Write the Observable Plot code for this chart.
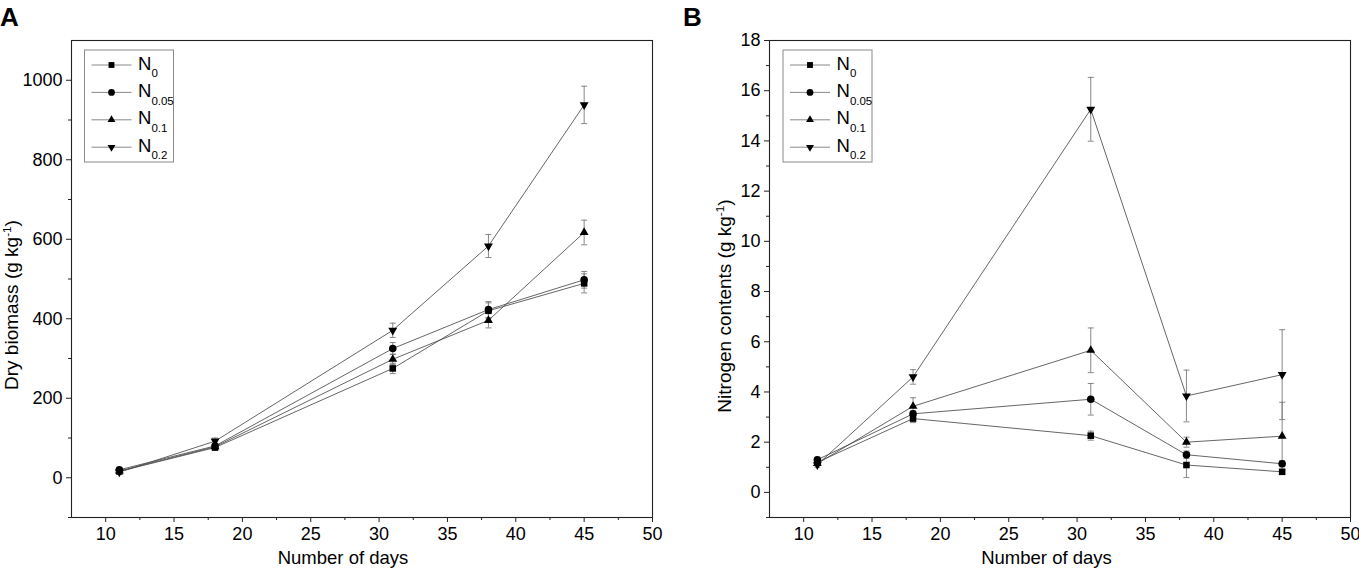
<!DOCTYPE html>
<html>
<head>
<meta charset="utf-8">
<script src="https://cdn.jsdelivr.net/npm/d3@7"></script>
<script src="https://cdn.jsdelivr.net/npm/@observablehq/plot@0.6"></script>
<style>
  html, body { margin: 0; padding: 0; background: #fff; }
  #wrap { position: relative; width: 1359px; height: 568px; overflow: hidden; background: #fff; }
  #wrap > svg { position: absolute; top: 0; }
</style>
</head>
<body>
<div id="wrap"></div>
<script>
// ---------------- data ----------------
const days = [11, 18, 31, 38, 45];
const seriesNames = ["N0", "N0.05", "N0.1", "N0.2"];
const seriesSubscripts = ["0", "0.05", "0.1", "0.2"];

// Panel A: dry biomass (g kg-1)
const biomassN0   = [16, 76, 275, 420, 489];
const biomassN005 = [20, 80, 325, 423, 498];
const biomassN01  = [17, 78, 298, 396, 617];
const biomassN02  = [14, 92, 371, 583, 938];
const biomassErrN0   = [5, 7, 13, 20, 24];
const biomassErrN005 = [5, 7, 15, 20, 21];
const biomassErrN01  = [5, 7, 13, 19, 31];
const biomassErrN02  = [5, 8, 18, 29, 47];

// Panel B: nitrogen contents (g kg-1)
const nitrogenN0   = [1.20, 2.94, 2.26, 1.09, 0.82];
const nitrogenN005 = [1.30, 3.13, 3.71, 1.50, 1.14];
const nitrogenN01  = [1.15, 3.43, 5.66, 2.00, 2.24];
const nitrogenN02  = [1.10, 4.60, 15.26, 3.84, 4.69];
const nitrogenErrN0   = [0.08, 0.16, 0.18, 0.50, 0.10];
const nitrogenErrN005 = [0.10, 0.12, 0.63, 0.15, 0.12];
const nitrogenErrN01  = [0.08, 0.34, 0.89, 0.20, 1.35];
const nitrogenErrN02  = [0.10, 0.29, 1.27, 1.03, 1.79];

// tick labels
const dayTicks = [10, 15, 20, 25, 30, 35, 40, 45, 50];
const biomassTicks = [0, 200, 400, 600, 800, 1000];
const nitrogenTicks = [0, 2, 4, 6, 8, 10, 12, 14, 16, 18];

// ---------------- helpers ----------------
const FONT = "'Liberation Sans', Arial, Helvetica, sans-serif";
const sqrt3 = Math.sqrt(3);
const triangleDown = {
  draw(context, size) {
    const y = -Math.sqrt(size / (sqrt3 * 3));
    context.moveTo(0, -y * 2);
    context.lineTo(-sqrt3 * y, y);
    context.lineTo(sqrt3 * y, y);
    context.closePath();
  }
};
const capSymbol = {
  draw(context) { context.moveTo(-3, 0); context.lineTo(3, 0); }
};
const symbols = [d3.symbolSquare, d3.symbolCircle, d3.symbolTriangle, triangleDown];
const symbolR = [3.7, 3.8, 3.3, 3.3];

function tidy(valueArrays, errArrays) {
  const rows = [];
  valueArrays.forEach((vals, s) => {
    vals.forEach((v, i) => rows.push({series: seriesNames[s], si: s, day: days[i], value: v,
      lo: v - errArrays[s][i], hi: v + errArrays[s][i]}));
  });
  return rows;
}

function panel({rows, yDomain, yTicks, yMinor, marginLeft, marginRight, width}) {
  const xMinor = d3.range(12.5, 50, 5);
  const marks = [
    Plot.ruleX(rows, {x: "day", y1: "lo", y2: "hi", stroke: "#7a7a7a", strokeWidth: 0.9}),
    Plot.dot(rows, {x: "day", y: "lo", symbol: capSymbol, stroke: "#7a7a7a", fill: "none", strokeWidth: 0.9}),
    Plot.dot(rows, {x: "day", y: "hi", symbol: capSymbol, stroke: "#7a7a7a", fill: "none", strokeWidth: 0.9}),
    Plot.line(rows, {x: "day", y: "value", z: "series", stroke: "#4a4a4a", strokeWidth: 0.85}),
    ...seriesNames.map((name, s) => Plot.dot(rows.filter(d => d.si === s),
      {x: "day", y: "value", symbol: symbols[s], r: symbolR[s], fill: "#000", stroke: "none"})),
    Plot.axisX({ticks: dayTicks, tickSize: 5, tickPadding: 5, tickFormat: d3.format("d"), label: null, stroke: "#222"}),
    Plot.axisX({ticks: xMinor, tickSize: 3, tickFormat: () => "", label: null, stroke: "#222"}),
    Plot.axisY({ticks: yTicks, tickSize: 5, tickPadding: 4, tickFormat: d3.format("d"), label: null, stroke: "#222"}),
    Plot.axisY({ticks: yMinor, tickSize: 3, tickFormat: () => "", label: null, stroke: "#222"}),
    Plot.frame({stroke: "#222", strokeWidth: 1.1})
  ];
  return Plot.plot({
    width, height: 568,
    marginLeft, marginRight, marginTop: 40, marginBottom: 51,
    x: {domain: [7.5, 50]},
    y: {domain: yDomain},
    style: {fontFamily: FONT, fontSize: "18px", color: "#000", background: "transparent", overflow: "visible"},
    marks
  });
}

function addRichText(sel, x, y, parts, opts = {}) {
  const t = sel.append("text")
    .attr("x", x).attr("y", y)
    .attr("font-family", FONT)
    .attr("font-size", opts.size || 18)
    .attr("fill", "#000")
    .attr("text-anchor", opts.anchor || "start");
  if (opts.rotate) t.attr("transform", `rotate(${opts.rotate},${x},${y})`);
  if (opts.weight) t.attr("font-weight", opts.weight);
  let shift = 0;
  parts.forEach(([txt, kind]) => {
    const ts = t.append("tspan").text(txt);
    let target = 0;
    if (kind === "sup") { ts.attr("font-size", (opts.size || 18) * 0.62); target = -7; }
    else if (kind === "sub") { ts.attr("font-size", opts.subSize || 11); target = opts.subShift || 7.7; }
    ts.attr("dy", target - shift);
    shift = target;
  });
  return t;
}

function addLegend(svg, left, top) {
  const g = d3.select(svg).append("g");
  g.append("rect").attr("x", left).attr("y", top).attr("width", 89).attr("height", 112)
    .attr("fill", "#fff").attr("stroke", "#8a8a8a").attr("stroke-width", 1);
  seriesNames.forEach((name, i) => {
    const cy = top + 15 + i * 27.4;
    g.append("line").attr("x1", left + 7).attr("x2", left + 47).attr("y1", cy).attr("y2", cy)
      .attr("stroke", "#888").attr("stroke-width", 1);
    const area = Math.PI * symbolR[i] * symbolR[i] * 0.8;
    g.append("path").attr("d", d3.symbol().type(symbols[i]).size(area)())
      .attr("transform", `translate(${left + 27},${cy})`).attr("fill", "#000");
    addRichText(g, left + 53.5, cy + 4.5, [["N"], [seriesSubscripts[i], "sub"]], {size: 18.5, subSize: 11.5, subShift: 7.7});
  });
}

const wrap = document.getElementById("wrap");

// Panel A
const plotA = panel({
  rows: tidy([biomassN0, biomassN005, biomassN01, biomassN02],
             [biomassErrN0, biomassErrN005, biomassErrN01, biomassErrN02]),
  yDomain: [-100, 1100], yTicks: biomassTicks, yMinor: d3.range(-100, 1100, 200),
  marginLeft: 71, marginRight: 28, width: 680
});
plotA.style.left = "0px";
wrap.appendChild(plotA);
const sA = d3.select(plotA);
addLegend(plotA, 84.5, 50);
addRichText(sA, 343, 564, [["Number of days"]], {size: 18.5, anchor: "middle"});
addRichText(sA, 18, 305, [["Dry biomass (g kg"], ["-1", "sup"], [")"]], {size: 19, anchor: "middle", rotate: -90});
addRichText(sA, 0, 26, [["A"]], {size: 26, weight: "bold"});

// Panel B
const plotB = panel({
  rows: tidy([nitrogenN0, nitrogenN005, nitrogenN01, nitrogenN02],
             [nitrogenErrN0, nitrogenErrN005, nitrogenErrN01, nitrogenErrN02]),
  yDomain: [-1, 18], yTicks: nitrogenTicks, yMinor: d3.range(-1, 18, 2),
  marginLeft: 89, marginRight: 9, width: 679
});
plotB.style.left = "680px";
wrap.appendChild(plotB);
const sB = d3.select(plotB);
addLegend(plotB, 103, 50);
addRichText(sB, 366.5, 564, [["Number of days"]], {size: 18.5, anchor: "middle"});
addRichText(sB, 51, 306, [["Nitrogen contents (g kg"], ["-1", "sup"], [")"]], {size: 19, anchor: "middle", rotate: -90});
addRichText(sB, 3, 26, [["B"]], {size: 26, weight: "bold"});
</script>
</body>
</html>
